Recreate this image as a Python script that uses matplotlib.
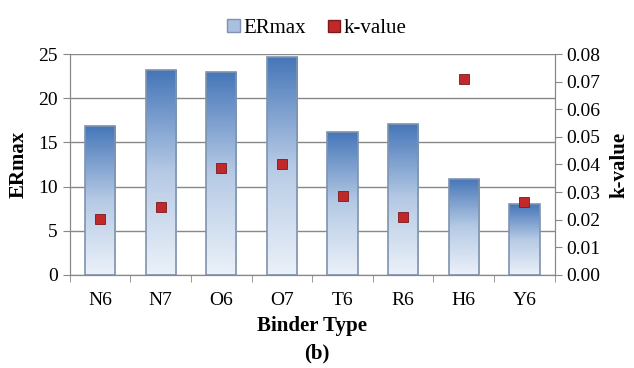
import matplotlib
matplotlib.use('Agg')
import matplotlib.pyplot as plt
import numpy as np
from matplotlib.colors import LinearSegmentedColormap
from matplotlib.patches import Patch
from matplotlib.lines import Line2D

plt.rcParams['font.family'] = ['Liberation Serif', 'DejaVu Serif']

binders = ['N6', 'N7', 'O6', 'O7', 'T6', 'R6', 'H6', 'Y6']
er_max = [16.9, 23.2, 23.0, 24.7, 16.2, 17.1, 10.9, 8.0]
k_value = [0.0203, 0.0246, 0.0387, 0.0402, 0.0286, 0.0210, 0.0710, 0.0264]

fig = plt.figure(figsize=(6.34, 3.68), dpi=100)
ax = fig.add_axes([0.110, 0.253, 0.765, 0.600])
ax2 = ax.twinx()

x = np.arange(len(binders))
bars = ax.bar(x, er_max, width=0.5, color='none', edgecolor='#7f93ae',
              linewidth=1.2, zorder=3, label='ERmax')

# gradient fill for each bar (dark blue on top, pale at bottom)
cmap = LinearSegmentedColormap.from_list('bl', ['#ebf1f9', '#b6cae5', '#4576b8'])
grad = np.linspace(0, 1, 256).reshape(-1, 1)
for b in bars:
    bx, by = b.get_x(), b.get_y()
    w, h = b.get_width(), b.get_height()
    im = ax.imshow(grad, cmap=cmap, aspect='auto', origin='lower',
                   extent=[bx, bx + w, by, by + h], zorder=2)
    im.set_clip_path(b)

ax2.plot(x, k_value, linestyle='none', marker='s', markersize=7.5,
         markerfacecolor='#c0282a', markeredgecolor='#7a1a1a',
         markeredgewidth=0.6, label='k-value', zorder=5)

ax.set_xlim(-0.5, len(binders) - 0.5)
ax.set_ylim(0, 25)
ax2.set_ylim(0, 0.08)
ax.set_yticks(np.arange(0, 26, 5))
ax2.set_yticks(np.arange(0, 0.081, 0.01))
ax2.set_yticklabels([f'{v:.2f}' for v in np.arange(0, 0.081, 0.01)])

ax.set_xticks(x)
ax.set_xticklabels(binders, fontsize=14)
ax.set_xticks(np.arange(-0.5, len(binders), 1), minor=True)
ax.tick_params(axis='x', which='major', length=0, pad=12)
ax.tick_params(axis='x', which='minor', length=5, color='#888888')
ax.tick_params(axis='y', labelsize=14, length=5, color='#888888')
ax2.tick_params(axis='y', labelsize=14, length=5, color='#888888')

ax.grid(axis='y', color='#888888', linewidth=1, zorder=0)
ax.set_axisbelow(True)
for a in (ax, ax2):
    a.spines['top'].set_visible(False)
    for s in ('left', 'right', 'bottom'):
        a.spines[s].set_color('#888888')

ax.set_ylabel('ERmax', fontsize=15, fontweight='bold', labelpad=7)
ax2.set_ylabel('k-value', fontsize=15, fontweight='bold', labelpad=6)
ax.set_xlabel('Binder Type', fontsize=15, fontweight='bold', labelpad=5)
fig.text(0.5, 0.025, '(b)', ha='center', fontsize=15, fontweight='bold')

handles = [Patch(facecolor='#a9c0e0', edgecolor='#7f93ae', label='ERmax'),
           Line2D([], [], linestyle='none', marker='s', markersize=8,
                  markerfacecolor='#c0282a', markeredgecolor='#7a1a1a', label='k-value')]
fig.legend(handles=handles, loc='upper center', bbox_to_anchor=(0.5, 1.0),
           ncol=2, frameon=False, fontsize=15, handlelength=0.6,
           handleheight=0.6, handletextpad=0.2, columnspacing=1.0)

fig.savefig('out.png', dpi=100)
